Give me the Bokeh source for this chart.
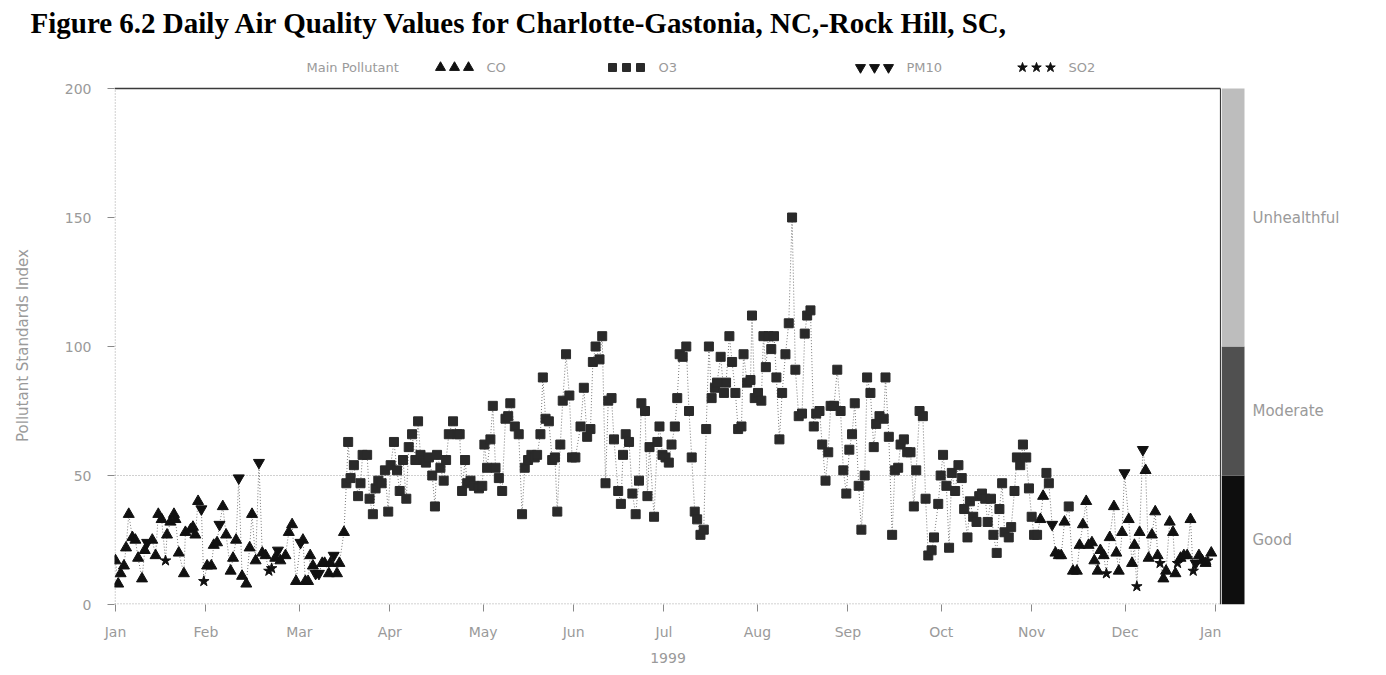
from bokeh.plotting import figure
from bokeh.layouts import column, row
from bokeh.models import Range1d, FixedTicker
from bokeh.embed import file_html
from bokeh.resources import INLINE
from bokeh.core.properties import value

# ---------------------------------------------------------------- data
# day of year 1999 (0 = Jan 1), daily Pollutant Standards Index, main pollutant
day = [
    0.0, 0.9, 1.7, 2.8, 3.5, 4.4, 5.6, 6.6, 7.5, 8.8, 9.7, 10.5, 12.2, 13.3, 14.2, 15.3,
    16.6, 17.1, 18.2, 19.4, 19.9, 21.0, 22.7, 23.2, 24.9, 25.7, 26.5, 27.4, 28.5, 29.3,
    30.4, 31.8, 32.6, 33.7, 34.5, 35.6, 36.7, 38.2, 39.0, 40.0, 40.9, 42.0, 43.4, 44.5,
    45.3, 46.5, 47.6, 48.7, 49.8, 50.9, 51.8, 53.0, 53.9, 54.7, 56.4, 57.5, 58.6, 59.9,
    61.4, 62.2, 63.0, 63.9, 64.6, 65.5, 66.4, 67.5, 68.6, 69.4, 70.8, 71.3, 72.4, 73.5,
    74.3, 75.8, 76.6, 77.2, 78.0, 79.1, 80.5, 81.3, 82.0, 83.5, 84.3, 85.4, 86.3, 87.2,
    88.3, 89.4, 90.5, 91.3, 92.4, 93.4, 94.3, 95.4, 96.5, 97.3, 98.4, 99.5, 100.4, 101.2,
    102.3, 103.0, 104.0, 105.1, 106.0, 106.7, 107.8, 108.9, 109.7, 110.6, 112.0, 113.4,
    114.2, 115.0, 116.0, 116.7, 117.8, 118.9, 120.6, 121.7, 122.4, 123.3, 124.4, 125.2,
    126.1, 127.2, 128.3, 129.4, 130.3, 131.0, 132.5, 133.8, 134.9, 135.8, 136.9, 138.0,
    139.1, 139.9, 141.0, 141.8, 142.7, 143.8, 144.9, 145.8, 146.6, 147.6, 148.4, 149.5,
    150.6, 151.5, 152.6, 154.3, 155.4, 156.5, 157.6, 158.4, 159.3, 160.6, 161.5, 162.6,
    163.5, 164.6, 165.4, 166.8, 167.7, 168.4, 169.3, 170.4, 171.5, 172.6, 173.7, 174.5,
    175.7, 176.5, 177.2, 178.7, 179.8, 180.5, 181.5, 182.5, 183.6, 184.5, 185.6, 186.4,
    187.2, 188.2, 189.4, 190.3, 191.2, 192.2, 193.0, 194.1, 195.2, 196.0, 196.9, 197.8,
    198.9, 199.6, 200.8, 201.9, 202.6, 203.7, 204.6, 205.7, 206.6, 207.7, 208.4, 209.6,
    210.7, 211.2, 212.1, 213.2, 214.3, 215.0, 215.8, 216.7, 217.6, 218.5, 219.3, 220.3,
    221.2, 222.3, 223.4, 224.5, 225.6, 226.7, 227.8, 228.7, 229.5, 230.6, 231.7, 232.5,
    233.6, 234.5, 235.6, 236.5, 237.3, 238.4, 239.5, 240.6, 241.5, 242.5, 243.5, 244.4,
    245.3, 246.6, 247.5, 248.6, 249.4, 250.5, 251.6, 252.4, 253.5, 254.9, 255.5, 256.6,
    257.7, 258.6, 259.7, 260.5, 261.6, 262.7, 263.8, 264.9, 265.7, 266.8, 267.9, 268.8,
    269.7, 270.8, 271.6, 273.0, 273.8, 274.6, 275.7, 276.6, 277.5, 278.6, 279.7, 280.8,
    281.6, 282.7, 283.5, 284.6, 285.7, 286.6, 287.5, 288.6, 289.4, 290.5, 291.3, 292.4,
    293.3, 294.2, 295.0, 296.4, 297.2, 298.3, 299.1, 300.2, 301.1, 302.2, 303.1, 304.0,
    304.8, 305.8, 306.9, 307.8, 308.9, 309.7, 310.8, 311.9, 313.0, 313.8, 314.9, 316.3,
    317.7, 319.0, 319.9, 321.0, 322.1, 322.9, 324.0, 324.8, 325.9, 326.8, 327.9, 328.8,
    329.9, 331.3, 332.1, 332.9, 334.0, 334.8, 336.2, 337.3, 338.1, 338.9, 339.8, 340.9,
    341.8, 342.8, 343.9, 345.0, 345.8, 346.6, 347.7, 348.6, 349.8, 350.9, 351.7, 352.4,
    353.4, 354.5, 355.6, 356.7, 357.6, 358.4, 359.5, 360.6, 361.7, 362.4, 363.6,
]
psi = [
    17, 8, 12, 15, 22, 35, 26, 25, 18, 10, 21, 24, 25, 19, 35, 33,
    17, 27, 32, 35, 33, 20, 12, 28, 29, 30, 27, 40, 37, 9,
    15, 15, 23, 24, 31, 38, 27, 13, 18, 25, 49, 11, 8, 22,
    35, 17, 55, 20, 19, 13, 14, 18, 21, 17, 19, 28, 31, 9,
    24, 25, 9, 9, 19, 15, 12, 12, 16, 16, 12, 16, 19, 12,
    16, 28, 47, 63, 49, 54, 42, 47, 58, 58, 41, 35, 45, 48,
    47, 52, 36, 54, 63, 52, 44, 56, 41, 61, 66, 56, 71, 58,
    56, 55, 57, 50, 38, 58, 53, 48, 56, 66, 71, 66,
    66, 44, 56, 47, 48, 46, 45, 46, 62, 53, 64, 77,
    53, 49, 44, 72, 73, 78, 69, 66, 35, 53, 56, 58,
    57, 58, 66, 88, 72, 71, 56, 57, 36, 62, 79, 97,
    81, 57, 57, 69, 84, 65, 68, 94, 100, 95, 104, 47,
    79, 80, 64, 44, 39, 58, 66, 63, 43, 35, 48, 78,
    75, 42, 61, 34, 63, 69, 58, 57, 55, 62, 69, 80,
    97, 96, 100, 75, 57, 36, 33, 27, 29, 68, 100, 80,
    84, 86, 96, 82, 86, 104, 94, 82, 68, 69, 97, 86,
    87, 112, 80, 82, 79, 104, 92, 104, 99, 104, 88, 64,
    82, 97, 109, 150, 91, 73, 74, 105, 112, 114, 69, 74,
    75, 62, 48, 59, 77, 77, 91, 75, 52, 43, 60, 66,
    78, 46, 29, 50, 88, 82, 61, 70, 73, 72, 88, 65,
    27, 52, 53, 62, 64, 59, 59, 38, 52, 75, 73, 41,
    19, 21, 26, 39, 50, 58, 46, 22, 51, 44, 54, 49,
    37, 26, 40, 34, 32, 42, 43, 41, 32, 41, 27, 20,
    37, 47, 28, 26, 30, 44, 57, 54, 62, 57, 45, 34,
    27, 27, 33, 42, 51, 47, 31, 20, 19, 19, 32, 38,
    13, 13, 23, 31, 40, 23, 24, 17, 13, 21, 19, 12,
    26, 38, 20, 13, 28, 51, 33, 16, 23, 7, 28, 60,
    52, 18, 27, 36, 19, 16, 10, 13, 32, 28, 12, 16,
    18, 19, 19, 33, 13, 16, 19, 17, 16, 17, 20,
]
# main pollutant of each day: C = CO, O = O3, P = PM10, S = SO2
pollutant_rows = [
    "CCCCCCCCCCCPCCCC",
    "SCCCCCCCCCCCPS",
    "CCCCPCCCCCPCCC",
    "CCPCCSSCPCCCCC",
    "PCCCCCPPCCCCPC",
    "CCOOOOOOOOOOOO",
    "OOOOOOOOOOOOOO",
] + ["OOOOOOOOOOOO"] * 17 + [
    "OOCCOOPCCCCO",
    "CCCCCCCCCCCS",
    "CCCCCPCCCSCP",
    "CCCCCSCCCCCS",
    "CCCCSPCCCSC",
]
pollutant_names = {"C": "CO", "O": "O3", "P": "PM10", "S": "SO2"}
pollutant = [pollutant_names[c] for row_codes in pollutant_rows for c in row_codes]

months = ["Jan", "Feb", "Mar", "Apr", "May", "Jun", "Jul", "Aug", "Sep", "Oct", "Nov", "Dec", "Jan"]
psi_ticks = [0, 50, 100, 150, 200]

band_lo = [0, 50, 100]
band_hi = [50, 100, 200]
band_name = ["Good", "Moderate", "Unhealthful"]

legend_codes = ["CO", "O3", "PM10", "SO2"]

# ---------------------------------------------------------------- layout
W, H = 1386, 675
HEAD_H = 76                    # title strip height
FRAME_TOP = 86                 # page y of the top of the plotting frame
MAIN_W = 1221                  # width of the chart panel
LEFT, BOTTOM = 114, 71
PX_DAY = 1100 / 365            # pixels per day
PX_PSI = 2.58                  # pixels per index point
ORIGIN_X, ORIGIN_Y = 115, 604  # page position of (day 0, psi 0)

def dx(px):
    return (px - ORIGIN_X) / PX_DAY

def dy(py):
    return (ORIGIN_Y - py) / PX_PSI

GRAY_TXT = "#9a9a9a"
FONT = "DejaVu Sans"

styles = {
    "CO": ("triangle", 11, "#111111"),
    "O3": ("square", 9, "#2a2a2a"),
    "PM10": ("inverted_triangle", 11, "#111111"),
    "SO2": ("star", 11, "#111111"),
}

def bare(fig):
    fig.outline_line_color = None
    fig.grid.visible = False
    fig.background_fill_color = "white"
    fig.border_fill_color = "white"

# ---- title strip with the pollutant key
head = figure(width=W, height=HEAD_H, output_backend="svg", toolbar_location=None,
              x_range=Range1d(0, W), y_range=Range1d(HEAD_H, 0),
              x_axis_location=None, y_axis_location=None,
              min_border_left=0, min_border_right=0, min_border_top=0, min_border_bottom=0)
bare(head)
head.text(x=[30], y=[22],
          text=["Figure 6.2 Daily Air Quality Values for Charlotte-Gastonia, NC,-Rock Hill, SC,"],
          text_font=value("Liberation Serif"), text_font_style="bold",
          text_font_size="29px", text_color="#000000",
          text_align="left", text_baseline="middle")
KEY_Y = 67
head.text(x=[306], y=[KEY_Y], text=["Main Pollutant"], text_font=value(FONT),
          text_font_size="13px", text_color=GRAY_TXT, text_align="left", text_baseline="middle")
key_first = [440, 612, 860, 1022]
for code, sx in zip(legend_codes, key_first):
    marker, size, color = styles[code]
    head.scatter([sx + k * 14 for k in range(3)], [KEY_Y] * 3, marker=marker, size=size - 1,
                 fill_color=color, line_color=color)
    head.text(x=[sx + 46], y=[KEY_Y], text=[code], text_font=value(FONT),
              text_font_size="13px", text_color=GRAY_TXT, text_align="left",
              text_baseline="middle")

# ---- main chart
x0 = dx(LEFT)
x_edge = dx(1220)
y_top = dy(FRAME_TOP)
p = figure(width=MAIN_W, height=H - HEAD_H, output_backend="svg", toolbar_location=None,
           x_range=Range1d(x0, dx(MAIN_W)), y_range=Range1d(0, y_top),
           min_border_left=LEFT, min_border_right=0, min_border_top=FRAME_TOP - HEAD_H,
           min_border_bottom=BOTTOM)
bare(p)

month_ticks = [round(i * 365 / 12) for i in range(13)]
p.xaxis.ticker = FixedTicker(ticks=month_ticks)
p.xaxis.major_label_overrides = {t: m for t, m in zip(month_ticks, months)}
p.yaxis.ticker = FixedTicker(ticks=psi_ticks)
for ax in (p.xaxis, p.yaxis):
    ax.axis_line_color = None
    ax.major_tick_in = 0
    ax.major_tick_out = 7
    ax.major_tick_line_color = "#8a8a8a"
    ax.minor_tick_line_color = None
    ax.major_label_text_color = GRAY_TXT
    ax.major_label_text_font = FONT
    ax.major_label_text_font_size = "14px"
    ax.axis_label_text_color = GRAY_TXT
    ax.axis_label_text_font = FONT
    ax.axis_label_text_font_style = "normal"
p.xaxis.major_label_standoff = 12
p.yaxis.major_label_standoff = 16
p.xaxis.axis_label = "1999"
p.xaxis.axis_label_text_font_size = "14px"
p.xaxis.axis_label_standoff = 10
p.yaxis.axis_label = "Pollutant Standards Index"
p.yaxis.axis_label_text_font_size = "15px"
p.yaxis.axis_label_standoff = 30

# frame lines
p.line([x0 + 0.2, x0 + 0.2], [0, 200], line_color="#8a8a8a", line_dash="1 2", line_width=1)
p.line([x0, x_edge], [0.2, 0.2], line_color="#8a8a8a", line_dash="1 2", line_width=1)
p.line([x0, x_edge], [50, 50], line_color="#a0a0a0", line_dash="1 2", line_width=1)
p.line([x0, x_edge], [200, 200], line_color="#3a3a3a", line_width=1.5)
p.line([x_edge, x_edge], [0, 200], line_color="#3a3a3a", line_width=1.2)

# daily series
p.line(day, psi, line_color="#7a7a7a", line_width=1, line_dash="1 2")
for code, (marker, size, color) in styles.items():
    idx = [i for i, c in enumerate(pollutant) if c == code]
    p.scatter([day[i] for i in idx], [psi[i] for i in idx], marker=marker, size=size,
              fill_color=color, line_color=color)

# ---- category bar on the right
side = figure(width=W - MAIN_W, height=H - HEAD_H, output_backend="svg", toolbar_location=None,
              x_range=Range1d(MAIN_W, W), y_range=p.y_range,
              x_axis_location=None, y_axis_location=None,
              min_border_left=0, min_border_right=0, min_border_top=FRAME_TOP - HEAD_H,
              min_border_bottom=BOTTOM)
bare(side)
side.quad(left=MAIN_W, right=1244, bottom=band_lo, top=band_hi,
          fill_color=["#0e0e0e", "#505050", "#bdbdbd"], line_color=None)
side.text(x=[1252] * 3, y=[(a + b) / 2 for a, b in zip(band_lo, band_hi)], text=band_name,
          text_font=value(FONT), text_font_size="15px", text_color=GRAY_TXT,
          text_align="left", text_baseline="middle")

page = column(head, row(p, side, spacing=0), spacing=0)
open("out.html", "w").write(file_html(page, INLINE))
